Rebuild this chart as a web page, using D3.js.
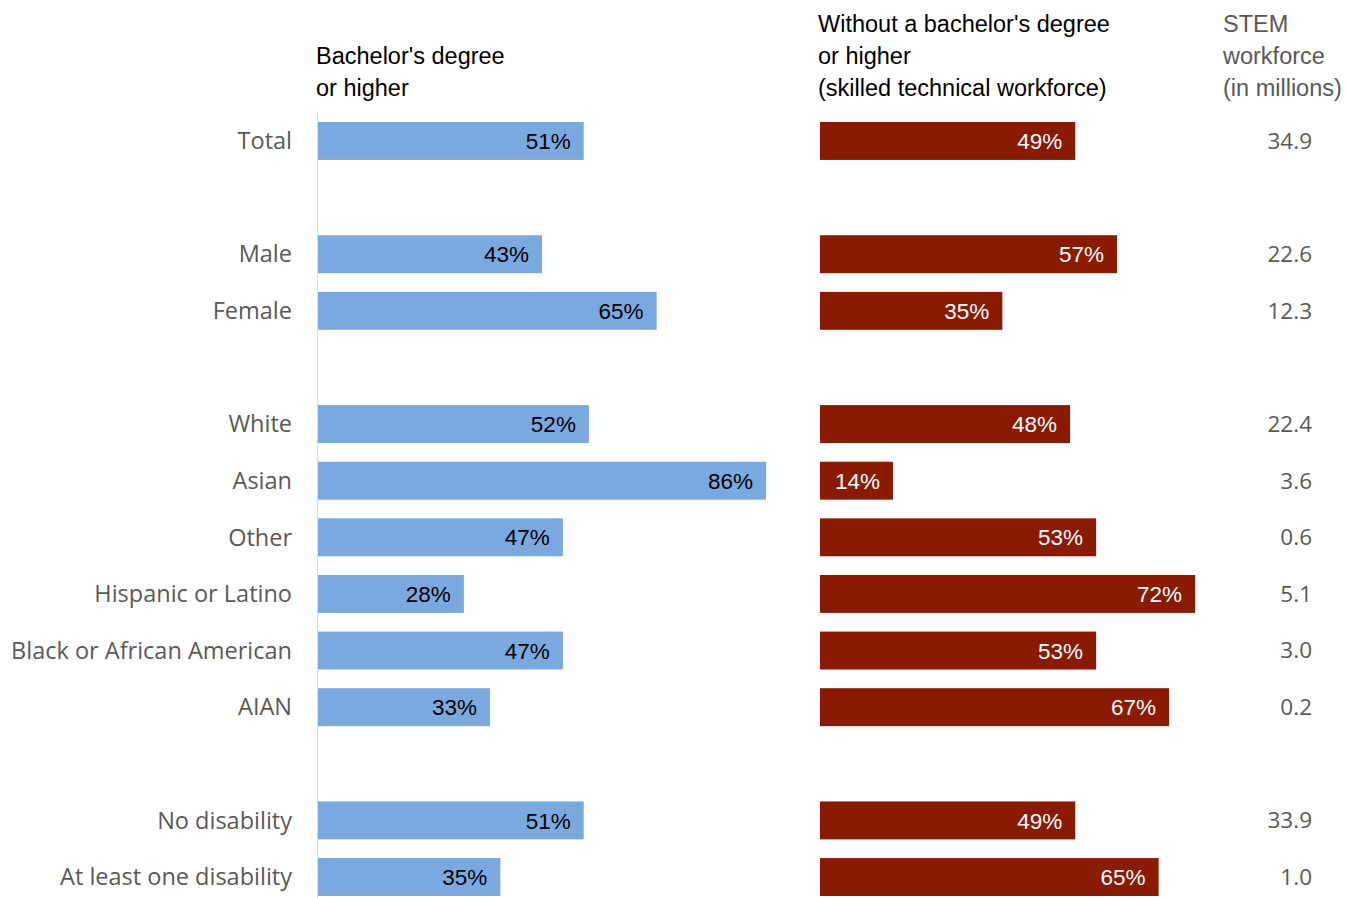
<!DOCTYPE html>
<html>
<head>
<meta charset="utf-8">
<script src="https://cdn.jsdelivr.net/npm/d3@7"></script>
<style>
  html, body { margin: 0; padding: 0; background: #fff; }
  svg { display: block; }
</style>
</head>
<body>
<svg id="chart" width="1345" height="898"></svg>
<script>
const categories = ["Total", "Male", "Female", "White", "Asian", "Other", "Hispanic or Latino",
  "Black or African American", "AIAN", "No disability", "At least one disability"];
const groups = [0, 1, 1, 2, 2, 2, 2, 2, 2, 3, 3];
const bachelorPct = [51, 43, 65, 52, 86, 47, 28, 47, 33, 51, 35];
const withoutPct = [49, 57, 35, 48, 14, 53, 72, 53, 67, 49, 65];
const workforceMillions = [34.9, 22.6, 12.3, 22.4, 3.6, 0.6, 5.1, 3.0, 0.2, 33.9, 1.0];
const headerBachelor = ["Bachelor's degree", "or higher"];
const headerWithout = ["Without a bachelor's degree", "or higher", "(skilled technical workforce)"];
const headerWorkforce = ["STEM", "workforce", "(in millions)"];

const svg = d3.select("#chart");
const rowIdx = categories.map((c, i) => i + groups[i]);
const nRows = d3.max(rowIdx) + 1;

const y = d3.scaleBand().domain(d3.range(nRows)).range([122, 896]).paddingInner(0.33).paddingOuter(0);
const x = d3.scaleLinear().domain([0, 100]).range([0, 521]);
const blueX0 = 318, redX0 = 820;
const sansA = "'Liberation Sans', Arial, sans-serif";
const sansO = "'Open Sans', sans-serif";

// axis line
svg.append("line").attr("x1", blueX0 - 0.5).attr("x2", blueX0 - 0.5)
  .attr("y1", 113).attr("y2", 898).attr("stroke", "#d9d9d9").attr("stroke-width", 1);

// headers
function header(lines, xPos, firstBaseline, color) {
  const t = svg.append("text").attr("x", xPos).attr("y", firstBaseline)
    .attr("font-family", sansA).attr("font-size", 23.5).attr("fill", color);
  lines.forEach((l, i) => t.append("tspan").attr("x", xPos).attr("dy", i === 0 ? 0 : 32).text(l));
}
header(headerBachelor, 316, 64, "#000");
header(headerWithout, 818, 32, "#000");
header(headerWorkforce, 1223, 32, "#595959");

const rows = categories.map((c, i) => ({
  cat: c, r: rowIdx[i], b: bachelorPct[i], w: withoutPct[i], m: workforceMillions[i]
}));

const g = svg.append("g");
// category labels
g.selectAll("text.cat").data(rows).join("text").attr("class", "cat")
  .attr("x", 292).attr("y", d => y(d.r) + y.bandwidth() / 2)
  .attr("dy", "0.35em").attr("text-anchor", "end")
  .attr("font-family", sansO).attr("font-size", 23.5).attr("fill", "#595959")
  .text(d => d.cat);

// blue bars
g.selectAll("rect.b").data(rows).join("rect").attr("class", "b")
  .attr("x", blueX0).attr("y", d => y(d.r)).attr("width", d => x(d.b)).attr("height", y.bandwidth())
  .attr("fill", "#7AA9E0");
g.selectAll("text.bl").data(rows).join("text").attr("class", "bl")
  .attr("x", d => blueX0 + x(d.b) - 13).attr("y", d => y(d.r) + y.bandwidth() / 2)
  .attr("dy", "0.36em").attr("text-anchor", "end")
  .attr("font-family", sansA).attr("font-size", 22.5).attr("fill", "#000")
  .text(d => d.b + "%");

// red bars
g.selectAll("rect.w").data(rows).join("rect").attr("class", "w")
  .attr("x", redX0).attr("y", d => y(d.r)).attr("width", d => x(d.w)).attr("height", y.bandwidth())
  .attr("fill", "#8B1A02");
g.selectAll("text.wl").data(rows).join("text").attr("class", "wl")
  .attr("x", d => redX0 + x(d.w) - 13).attr("y", d => y(d.r) + y.bandwidth() / 2)
  .attr("dy", "0.36em").attr("text-anchor", "end")
  .attr("font-family", sansA).attr("font-size", 22.5).attr("fill", "#fff")
  .text(d => d.w + "%");

// workforce numbers
g.selectAll("text.m").data(rows).join("text").attr("class", "m")
  .attr("x", 1312).attr("y", d => y(d.r) + y.bandwidth() / 2)
  .attr("dy", "0.35em").attr("text-anchor", "end")
  .attr("font-family", sansO).attr("font-size", 22.5).attr("fill", "#595959")
  .text(d => d3.format(".1f")(d.m));
</script>
</body>
</html>
